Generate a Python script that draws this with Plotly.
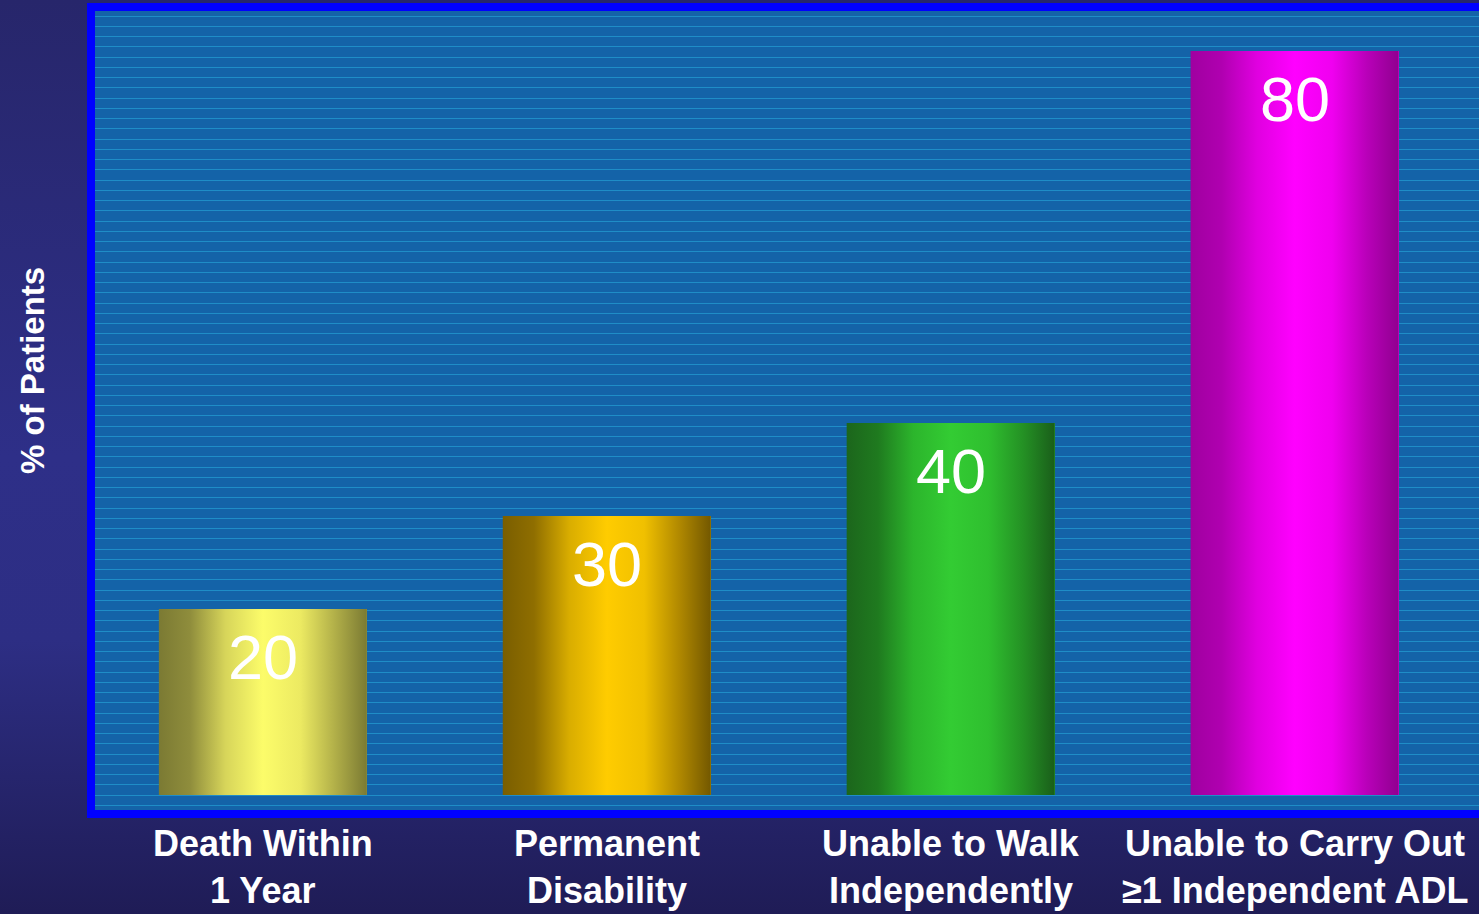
import base64
import plotly.graph_objects as go

# ---- data ----
categories = ["Death Within<br>1 Year", "Permanent<br>Disability",
              "Unable to Walk<br>Independently", "Unable to Carry Out<br>≥1 Independent ADL"]
values = [20, 30, 40, 80]
value_labels = ["20", "30", "40", "80"]
y_title = "% of Patients"

# ---- styles ----
W, H = 1479, 914
bar_gradients = [
    [[0, "#7b7a33"], [0.15, "#8f8d3c"], [0.32, "#d7d55a"], [0.5, "#fcfc6a"],
     [0.68, "#ecea62"], [0.85, "#b0ae48"], [1, "#7b7a33"]],
    [[0, "#7a5e00"], [0.15, "#8f6e00"], [0.32, "#d9ad00"], [0.5, "#ffcc00"],
     [0.68, "#f0c000"], [0.85, "#b08800"], [1, "#735800"]],
    [[0, "#1c661c"], [0.15, "#1f7a1f"], [0.32, "#2cb52c"], [0.5, "#33cc33"],
     [0.68, "#2fbf2f"], [0.85, "#249024"], [1, "#1a5e1a"]],
    [[0, "#a000a0"], [0.15, "#b000b0"], [0.32, "#e000e0"], [0.5, "#ff00ff"],
     [0.68, "#f000f0"], [0.85, "#b800b8"], [1, "#900090"]],
]
bar_width = 0.605

# background gradient image (decoration only)
svg = (
    '<svg xmlns="http://www.w3.org/2000/svg" width="100" height="100" preserveAspectRatio="none">'
    '<defs><linearGradient id="g" x1="0" y1="0" x2="0" y2="1">'
    '<stop offset="0" stop-color="#27266b"/>'
    '<stop offset="0.5" stop-color="#2e2f88"/>'
    '<stop offset="0.7" stop-color="#2d2e84"/>'
    '<stop offset="1" stop-color="#1f1c56"/>'
    '</linearGradient></defs><rect width="100" height="100" fill="url(#g)"/></svg>'
)
bg_uri = "data:image/svg+xml;base64," + base64.b64encode(svg.encode()).decode()

# ---- geometry of the plot area (pixels) ----
plot_left, plot_right, plot_top, plot_bottom = 95, 1479, 11, 810
zero_px = 795
px_per_unit = 9.3
first_center, spacing = 262.9, 343.9

x_range = [(plot_left - first_center) / spacing, (plot_right - first_center) / spacing]
y_range = [-(plot_bottom - zero_px) / px_per_unit, (zero_px - plot_top) / px_per_unit]

xs = list(range(len(categories)))

fig = go.Figure()

fig.add_trace(go.Bar(
    x=xs, y=values, width=bar_width,
    marker=dict(color=[g[3][1] for g in bar_gradients], line=dict(width=0)),
    hoverinfo="skip", showlegend=False,
))

for i, (v, g) in enumerate(zip(values, bar_gradients)):
    x0, x1 = i - bar_width / 2, i + bar_width / 2
    fig.add_trace(go.Scatter(
        x=[x0, x1, x1, x0, x0], y=[0, 0, v, v, 0],
        mode="lines", fill="toself", line=dict(width=0),
        fillgradient=dict(type="horizontal", colorscale=g),
        hoverinfo="skip", showlegend=False,
    ))

annotations = []
for i, (v, t) in enumerate(zip(values, value_labels)):
    annotations.append(dict(
        x=i, y=v, xref="x", yref="y", text=t, showarrow=False,
        yanchor="top", yshift=-11,
        font=dict(family="Liberation Sans, Arial", size=63, color="white"),
    ))

line_tops = [821, 868]
for i, cat in enumerate(categories):
    for j, line in enumerate(cat.split("<br>")):
        annotations.append(dict(
            x=i, y=1 - line_tops[j] / H, xref="x", yref="paper", text=line,
            showarrow=False, yanchor="top", xanchor="center",
            font=dict(family="Liberation Sans, Arial", size=36, color="white",
                      weight="bold"),
        ))

annotations.append(dict(
    x=32 / W, y=1 - 371 / H, xref="paper", yref="paper", text=y_title,
    textangle=-90, showarrow=False, xanchor="center", yanchor="middle",
    font=dict(family="Liberation Sans, Arial", size=33, color="white", weight="bold"),
))

fig.update_layout(
    width=W, height=H,
    margin=dict(l=0, r=0, t=0, b=0),
    paper_bgcolor="#2a2a78",
    plot_bgcolor="#1463a8",
    showlegend=False,
    annotations=annotations,
    images=[dict(source=bg_uri, xref="paper", yref="paper", x=0, y=1,
                 sizex=1, sizey=1, sizing="stretch", layer="below",
                 xanchor="left", yanchor="top")],
    shapes=[dict(type="rect", xref="paper", yref="paper", layer="below",
                 x0=91 / W, x1=1.02, y0=1 - 814 / H, y1=1 - 7 / H,
                 line=dict(color="#0000ff", width=8), fillcolor="#1463a8")],
    xaxis=dict(domain=[plot_left / W, 1], range=x_range, showgrid=False,
               zeroline=False, showticklabels=False, ticks="", fixedrange=True),
    yaxis=dict(domain=[1 - plot_bottom / H, 1 - plot_top / H], range=y_range,
               showgrid=True, gridcolor="rgba(35,155,210,0.75)", gridwidth=1,
               tick0=0, dtick=10.25 / px_per_unit,
               zeroline=False, showticklabels=False, ticks="", fixedrange=True),
    bargap=0,
)

fig.write_html("out.html", config={"displayModeBar": False},
               post_script="document.body.style.margin='0';document.body.style.overflow='hidden';")
